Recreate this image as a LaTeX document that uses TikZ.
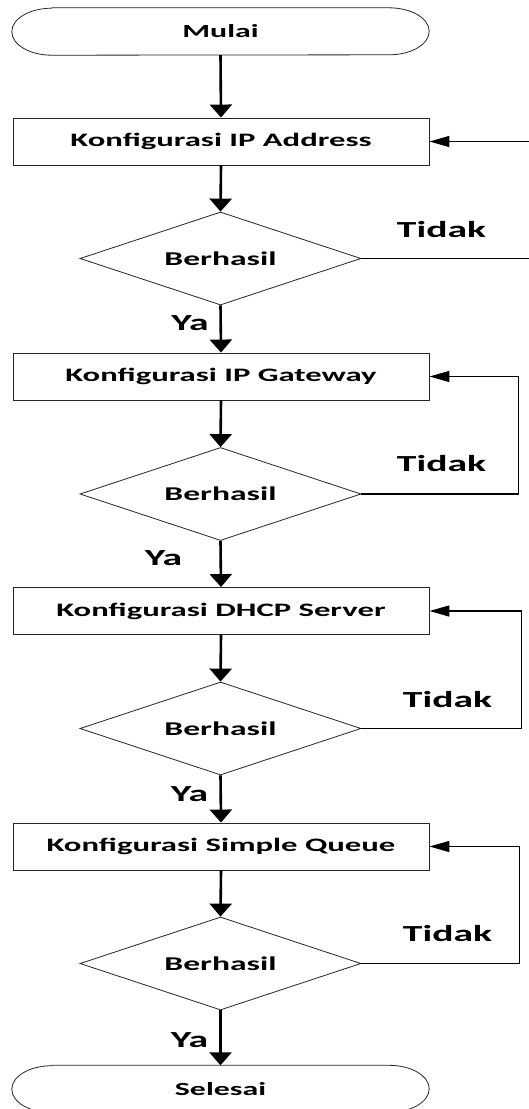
\documentclass[tikz,border=0pt]{standalone}
\usepackage{fontspec}
\newfontfamily\fc{Carlito}[FakeStretch=1.72]
\usetikzlibrary{shapes.geometric,arrows.meta}
\begin{document}
\begin{tikzpicture}[x=1pt,y=1pt,
  txt/.style={font=\fc\bfseries\fontsize{19}{22}\selectfont},
  boxst/.style={draw=black!85, line width=0.9pt, minimum width=416pt, minimum height=47pt, inner sep=0pt, txt},
  decst/.style={diamond, draw=black!85, line width=0.8pt, minimum width=281pt, minimum height=93pt, aspect=3.02, inner sep=0pt, font=\fc\bfseries\fontsize{19.5}{22}\selectfont},
  termst/.style={minimum width=417pt, minimum height=47pt, inner sep=0pt, font=\fc\bfseries\fontsize{18.5}{22}\selectfont},
  termline/.style={draw=black!85, line width=0.8pt},
  lbl/.style={anchor=base, inner sep=0pt, font=\fc\bfseries\fontsize{23}{26}\selectfont},
  varrow/.style={line width=2.6pt, -{Triangle[length=13pt,width=22pt]}},
  loopl/.style={line width=1.4pt, -{Triangle[length=20pt,width=11pt]}},
]
\useasboundingbox (0,0) rectangle (529,-1109);
\fill[white] (0,0) rectangle (529,-1109);

\node[termst] (m) at (220.5,-31.5) {Mulai};
\draw[termline] ([xshift=40pt]m.north west) -- ([xshift=-40pt]m.north east)
  arc[start angle=90, end angle=-90, x radius=40pt, y radius=23.5pt]
  -- ([xshift=40pt]m.south west)
  arc[start angle=270, end angle=90, x radius=40pt, y radius=23.5pt] -- cycle;

\node[boxst] (b1) at (221,-141.5) {Konfigurasi IP Address};
\node[decst] (d1) at (220.5,-258.5) {Berhasil};
\node[boxst] (b2) at (221,-376.5) {Konfigurasi IP Gateway};
\node[decst] (d2) at (220.5,-494) {Berhasil};
\node[boxst] (b3) at (221,-611) {Konfigurasi DHCP Server};
\node[decst] (d3) at (220.5,-728.5) {Berhasil};
\node[boxst] (b4) at (221,-846.5) {Konfigurasi Simple Queue};
\node[decst] (d4) at (220.5,-963.5) {Berhasil};

\node[termst] (s) at (220.5,-1089) {Selesai};
\draw[termline] ([xshift=40pt]s.north west) -- ([xshift=-40pt]s.north east)
  arc[start angle=90, end angle=-90, x radius=40pt, y radius=23.5pt]
  -- ([xshift=40pt]s.south west)
  arc[start angle=270, end angle=90, x radius=40pt, y radius=23.5pt] -- cycle;

\draw[varrow] (m.south) -- (b1.north);
\draw[varrow] (b1.south) -- (d1.north);
\draw[varrow] (d1.south) -- (b2.north);
\draw[varrow] (b2.south) -- (d2.north);
\draw[varrow] (d2.south) -- (b3.north);
\draw[varrow] (b3.south) -- (d3.north);
\draw[varrow] (d3.south) -- (b4.north);
\draw[varrow] (b4.south) -- (d4.north);
\draw[varrow] (d4.south) -- (s.north);

\coordinate (c1) at (535,0);
\coordinate (c2) at (518.5,0);
\coordinate (c3) at (521.5,0);
\coordinate (c4) at (519.5,0);
\draw[loopl] (d1.east) -- (d1.east -| c1) -- (b1.east -| c1) -- (b1.east);
\draw[loopl] (d2.east) -- (d2.east -| c2) -- (b2.east -| c2) -- (b2.east);
\draw[loopl] (d3.east) -- (d3.east -| c3) -- (b3.east -| c3) -- (b3.east);
\draw[loopl] (d4.east) -- (d4.east -| c4) -- (b4.east -| c4) -- (b4.east);

\node[lbl] (t1) at (441.5,-237) {Tidak};
\node[lbl] (t2) at (441.5,-471.7) {Tidak};
\node[lbl] (t3) at (447.5,-707.7) {Tidak};
\node[lbl] (t4) at (447.5,-941.7) {Tidak};
\node[lbl] (y1) at (190,-330) {Ya};
\node[lbl] (y2) at (163.5,-565.7) {Ya};
\node[lbl] (y3) at (189.5,-801) {Ya};
\node[lbl] (y4) at (189.5,-1047.7) {Ya};
\end{tikzpicture}
\end{document}
